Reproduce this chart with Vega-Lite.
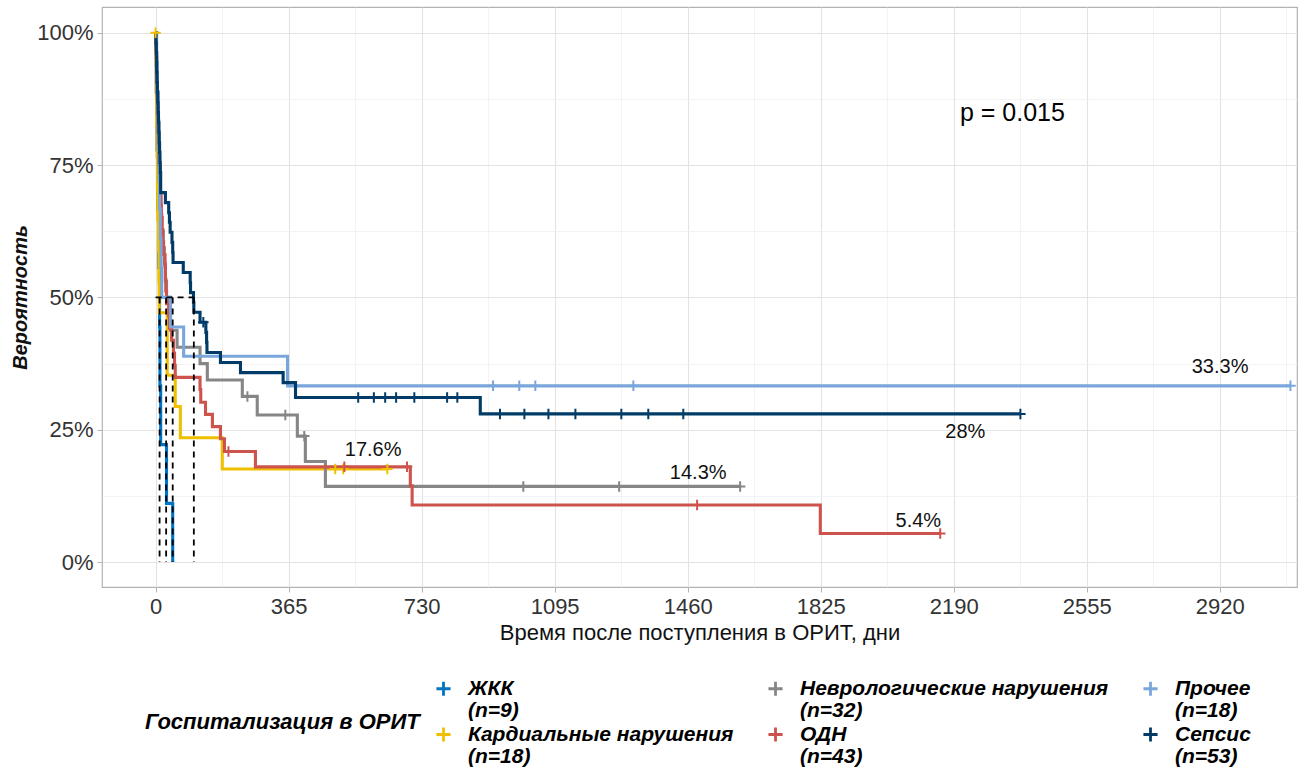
{
  "$schema": "https://vega.github.io/schema/vega-lite/v6.json",
  "width": 1195,
  "height": 580,
  "autosize": {"type": "none"},
  "padding": {"left": 102, "top": 7, "right": 17, "bottom": 182},
  "background": "white",
  "config": {
    "font": "Liberation Sans",
    "view": {"stroke": "#b3b3b3", "strokeWidth": 1.2},
    "axis": {
      "domain": false,
      "tickColor": "#b3b3b3",
      "tickSize": 5,
      "labelColor": "#333333",
      "labelFontSize": 22,
      "labelOverlap": false,
      "titleColor": "#111111",
      "titleFontSize": 22,
      "titleFontWeight": "normal"
    }
  },
  "datasets": {
    "km": [
      {"g": "ЖКК", "t": 0, "s": 1},
      {"g": "ЖКК", "t": 2, "s": 0.889},
      {"g": "ЖКК", "t": 4, "s": 0.778},
      {"g": "ЖКК", "t": 6, "s": 0.667},
      {"g": "ЖКК", "t": 8, "s": 0.556},
      {"g": "ЖКК", "t": 11, "s": 0.444},
      {"g": "ЖКК", "t": 12, "s": 0.333},
      {"g": "ЖКК", "t": 14, "s": 0.222},
      {"g": "ЖКК", "t": 30, "s": 0.111},
      {"g": "ЖКК", "t": 47, "s": 0},

      {"g": "Кардиальные нарушения", "t": 0, "s": 1},
      {"g": "Кардиальные нарушения", "t": 1, "s": 0.941},
      {"g": "Кардиальные нарушения", "t": 2, "s": 0.882},
      {"g": "Кардиальные нарушения", "t": 3, "s": 0.824},
      {"g": "Кардиальные нарушения", "t": 4, "s": 0.765},
      {"g": "Кардиальные нарушения", "t": 5, "s": 0.706},
      {"g": "Кардиальные нарушения", "t": 6, "s": 0.647},
      {"g": "Кардиальные нарушения", "t": 8, "s": 0.588},
      {"g": "Кардиальные нарушения", "t": 9, "s": 0.529},
      {"g": "Кардиальные нарушения", "t": 10, "s": 0.471},
      {"g": "Кардиальные нарушения", "t": 32, "s": 0.353},
      {"g": "Кардиальные нарушения", "t": 54, "s": 0.294},
      {"g": "Кардиальные нарушения", "t": 68, "s": 0.235},
      {"g": "Кардиальные нарушения", "t": 183, "s": 0.176},
      {"g": "Кардиальные нарушения", "t": 636, "s": 0.176},

      {"g": "Неврологические нарушения", "t": 0, "s": 1},
      {"g": "Неврологические нарушения", "t": 1, "s": 0.969},
      {"g": "Неврологические нарушения", "t": 2, "s": 0.938},
      {"g": "Неврологические нарушения", "t": 3, "s": 0.906},
      {"g": "Неврологические нарушения", "t": 4, "s": 0.875},
      {"g": "Неврологические нарушения", "t": 5, "s": 0.844},
      {"g": "Неврологические нарушения", "t": 6, "s": 0.813},
      {"g": "Неврологические нарушения", "t": 7, "s": 0.781},
      {"g": "Неврологические нарушения", "t": 8, "s": 0.75},
      {"g": "Неврологические нарушения", "t": 10, "s": 0.719},
      {"g": "Неврологические нарушения", "t": 12, "s": 0.688},
      {"g": "Неврологические нарушения", "t": 14, "s": 0.656},
      {"g": "Неврологические нарушения", "t": 17, "s": 0.625},
      {"g": "Неврологические нарушения", "t": 21, "s": 0.594},
      {"g": "Неврологические нарушения", "t": 24, "s": 0.563},
      {"g": "Неврологические нарушения", "t": 27, "s": 0.531},
      {"g": "Неврологические нарушения", "t": 30, "s": 0.5},
      {"g": "Неврологические нарушения", "t": 38, "s": 0.469},
      {"g": "Неврологические нарушения", "t": 41, "s": 0.438},
      {"g": "Неврологические нарушения", "t": 59, "s": 0.406},
      {"g": "Неврологические нарушения", "t": 122, "s": 0.375},
      {"g": "Неврологические нарушения", "t": 142, "s": 0.344},
      {"g": "Неврологические нарушения", "t": 238, "s": 0.313},
      {"g": "Неврологические нарушения", "t": 279, "s": 0.278},
      {"g": "Неврологические нарушения", "t": 389, "s": 0.238},
      {"g": "Неврологические нарушения", "t": 411, "s": 0.19},
      {"g": "Неврологические нарушения", "t": 466, "s": 0.143},
      {"g": "Неврологические нарушения", "t": 1604, "s": 0.143},

      {"g": "ОДН", "t": 0, "s": 1},
      {"g": "ОДН", "t": 1, "s": 0.977},
      {"g": "ОДН", "t": 2, "s": 0.953},
      {"g": "ОДН", "t": 3, "s": 0.93},
      {"g": "ОДН", "t": 4, "s": 0.907},
      {"g": "ОДН", "t": 5, "s": 0.884},
      {"g": "ОДН", "t": 6, "s": 0.86},
      {"g": "ОДН", "t": 7, "s": 0.837},
      {"g": "ОДН", "t": 8, "s": 0.814},
      {"g": "ОДН", "t": 9, "s": 0.791},
      {"g": "ОДН", "t": 10, "s": 0.767},
      {"g": "ОДН", "t": 11, "s": 0.744},
      {"g": "ОДН", "t": 12, "s": 0.721},
      {"g": "ОДН", "t": 13, "s": 0.698},
      {"g": "ОДН", "t": 15, "s": 0.674},
      {"g": "ОДН", "t": 16, "s": 0.651},
      {"g": "ОДН", "t": 18, "s": 0.628},
      {"g": "ОДН", "t": 20, "s": 0.605},
      {"g": "ОДН", "t": 22, "s": 0.581},
      {"g": "ОДН", "t": 26, "s": 0.558},
      {"g": "ОДН", "t": 27, "s": 0.535},
      {"g": "ОДН", "t": 28, "s": 0.512},
      {"g": "ОДН", "t": 30, "s": 0.488},
      {"g": "ОДН", "t": 36, "s": 0.465},
      {"g": "ОДН", "t": 38, "s": 0.442},
      {"g": "ОДН", "t": 44, "s": 0.419},
      {"g": "ОДН", "t": 49, "s": 0.395},
      {"g": "ОДН", "t": 52, "s": 0.372},
      {"g": "ОДН", "t": 54, "s": 0.349},
      {"g": "ОДН", "t": 122, "s": 0.326},
      {"g": "ОДН", "t": 124, "s": 0.302},
      {"g": "ОДН", "t": 137, "s": 0.279},
      {"g": "ОДН", "t": 156, "s": 0.256},
      {"g": "ОДН", "t": 178, "s": 0.233},
      {"g": "ОДН", "t": 189, "s": 0.209},
      {"g": "ОДН", "t": 274, "s": 0.18},
      {"g": "ОДН", "t": 699, "s": 0.144},
      {"g": "ОДН", "t": 704, "s": 0.108},
      {"g": "ОДН", "t": 1824, "s": 0.054},
      {"g": "ОДН", "t": 2153, "s": 0.054},

      {"g": "Прочее", "t": 0, "s": 1},
      {"g": "Прочее", "t": 3, "s": 0.944},
      {"g": "Прочее", "t": 5, "s": 0.889},
      {"g": "Прочее", "t": 7, "s": 0.833},
      {"g": "Прочее", "t": 9, "s": 0.778},
      {"g": "Прочее", "t": 10, "s": 0.722},
      {"g": "Прочее", "t": 11, "s": 0.667},
      {"g": "Прочее", "t": 13, "s": 0.611},
      {"g": "Прочее", "t": 15, "s": 0.556},
      {"g": "Прочее", "t": 17, "s": 0.5},
      {"g": "Прочее", "t": 41, "s": 0.444},
      {"g": "Прочее", "t": 77, "s": 0.389},
      {"g": "Прочее", "t": 362, "s": 0.333},
      {"g": "Прочее", "t": 3114, "s": 0.333},

      {"g": "Сепсис", "t": 0, "s": 1},
      {"g": "Сепсис", "t": 1, "s": 0.981},
      {"g": "Сепсис", "t": 2, "s": 0.962},
      {"g": "Сепсис", "t": 3, "s": 0.925},
      {"g": "Сепсис", "t": 4, "s": 0.906},
      {"g": "Сепсис", "t": 5, "s": 0.887},
      {"g": "Сепсис", "t": 6, "s": 0.868},
      {"g": "Сепсис", "t": 7, "s": 0.849},
      {"g": "Сепсис", "t": 8, "s": 0.83},
      {"g": "Сепсис", "t": 9, "s": 0.811},
      {"g": "Сепсис", "t": 10, "s": 0.792},
      {"g": "Сепсис", "t": 11, "s": 0.774},
      {"g": "Сепсис", "t": 12, "s": 0.755},
      {"g": "Сепсис", "t": 13, "s": 0.736},
      {"g": "Сепсис", "t": 14, "s": 0.698},
      {"g": "Сепсис", "t": 27, "s": 0.679},
      {"g": "Сепсис", "t": 36, "s": 0.66},
      {"g": "Сепсис", "t": 38, "s": 0.642},
      {"g": "Сепсис", "t": 40, "s": 0.623},
      {"g": "Сепсис", "t": 45, "s": 0.604},
      {"g": "Сепсис", "t": 47, "s": 0.585},
      {"g": "Сепсис", "t": 48, "s": 0.566},
      {"g": "Сепсис", "t": 76, "s": 0.547},
      {"g": "Сепсис", "t": 95, "s": 0.528},
      {"g": "Сепсис", "t": 96, "s": 0.509},
      {"g": "Сепсис", "t": 104, "s": 0.491},
      {"g": "Сепсис", "t": 105, "s": 0.472},
      {"g": "Сепсис", "t": 122, "s": 0.453},
      {"g": "Сепсис", "t": 138, "s": 0.434},
      {"g": "Сепсис", "t": 140, "s": 0.415},
      {"g": "Сепсис", "t": 141, "s": 0.396},
      {"g": "Сепсис", "t": 178, "s": 0.377},
      {"g": "Сепсис", "t": 233, "s": 0.358},
      {"g": "Сепсис", "t": 350, "s": 0.339},
      {"g": "Сепсис", "t": 384, "s": 0.311},
      {"g": "Сепсис", "t": 891, "s": 0.28},
      {"g": "Сепсис", "t": 2373, "s": 0.28}
    ],
    "censored": [
      {"g": "Кардиальные нарушения", "t": 0, "s": 1},
      {"g": "Кардиальные нарушения", "t": 493, "s": 0.176},
      {"g": "Кардиальные нарушения", "t": 515, "s": 0.176},
      {"g": "Кардиальные нарушения", "t": 636, "s": 0.176},
      {"g": "Неврологические нарушения", "t": 252, "s": 0.313},
      {"g": "Неврологические нарушения", "t": 356, "s": 0.278},
      {"g": "Неврологические нарушения", "t": 408, "s": 0.238},
      {"g": "Неврологические нарушения", "t": 1009, "s": 0.143},
      {"g": "Неврологические нарушения", "t": 1272, "s": 0.143},
      {"g": "Неврологические нарушения", "t": 1604, "s": 0.143},
      {"g": "ОДН", "t": 200, "s": 0.209},
      {"g": "ОДН", "t": 518, "s": 0.18},
      {"g": "ОДН", "t": 690, "s": 0.18},
      {"g": "ОДН", "t": 1486, "s": 0.108},
      {"g": "ОДН", "t": 2153, "s": 0.054},
      {"g": "Прочее", "t": 926, "s": 0.333},
      {"g": "Прочее", "t": 998, "s": 0.333},
      {"g": "Прочее", "t": 1042, "s": 0.333},
      {"g": "Прочее", "t": 1311, "s": 0.333},
      {"g": "Прочее", "t": 3114, "s": 0.333},
      {"g": "Сепсис", "t": 131, "s": 0.453},
      {"g": "Сепсис", "t": 556, "s": 0.311},
      {"g": "Сепсис", "t": 599, "s": 0.311},
      {"g": "Сепсис", "t": 630, "s": 0.311},
      {"g": "Сепсис", "t": 660, "s": 0.311},
      {"g": "Сепсис", "t": 710, "s": 0.311},
      {"g": "Сепсис", "t": 800, "s": 0.311},
      {"g": "Сепсис", "t": 828, "s": 0.311},
      {"g": "Сепсис", "t": 945, "s": 0.28},
      {"g": "Сепсис", "t": 1012, "s": 0.28},
      {"g": "Сепсис", "t": 1078, "s": 0.28},
      {"g": "Сепсис", "t": 1152, "s": 0.28},
      {"g": "Сепсис", "t": 1278, "s": 0.28},
      {"g": "Сепсис", "t": 1352, "s": 0.28},
      {"g": "Сепсис", "t": 1448, "s": 0.28},
      {"g": "Сепсис", "t": 2373, "s": 0.28}
    ],
    "medians": [
      {"t": 11, "s": 0.5},
      {"t": 29, "s": 0.5},
      {"t": 47, "s": 0.5},
      {"t": 105, "s": 0.5}
    ],
    "medianLevel": [
      {"t": 0, "t2": 105, "s": 0.5}
    ],
    "finalLabels": [
      {"t": 2921, "s": 0.333, "label": "33.3%", "side": "high"},
      {"t": 597, "s": 0.176, "label": "17.6%", "side": "high"},
      {"t": 1489, "s": 0.143, "label": "14.3%", "side": "low"},
      {"t": 2093, "s": 0.054, "label": "5.4%", "side": "low"},
      {"t": 2222, "s": 0.28, "label": "28%", "side": "below"}
    ]
  },
  "encoding": {
    "x": {
      "field": "t",
      "type": "quantitative",
      "scale": {"domain": [-147, 3132], "nice": false, "zero": false},
      "axis": {
        "title": "Время после поступления в ОРИТ, дни",
        "values": [0, 182.5, 365, 547.5, 730, 912.5, 1095, 1277.5, 1460, 1642.5, 1825, 2007.5, 2190, 2372.5, 2555, 2737.5, 2920, 3102.5],
        "format": "d",
        "labelExpr": "datum.value % 365 == 0 ? datum.label : ''",
        "labelPadding": 4,
        "titlePadding": 5,
        "tickOpacity": {"condition": {"test": "datum.value % 365 == 0", "value": 1}, "value": 0},
        "gridColor": {"condition": {"test": "datum.value % 365 == 0", "value": "#e3e3e3"}, "value": "#eeeeee"},
        "gridWidth": {"condition": {"test": "datum.value % 365 == 0", "value": 1.1}, "value": 0.7}
      }
    },
    "y": {
      "field": "s",
      "type": "quantitative",
      "scale": {"domain": [-0.047, 1.0486], "nice": false, "zero": false},
      "axis": {
        "title": "Вероятность",
        "titleFontStyle": "italic",
        "titleFontWeight": "bold",
        "titleFontSize": 20,
        "titlePadding": 6,
        "values": [0, 0.125, 0.25, 0.375, 0.5, 0.625, 0.75, 0.875, 1],
        "format": ".0%",
        "labelExpr": "datum.value * 4 % 1 == 0 ? datum.label : ''",
        "labelPadding": 4,
        "tickOpacity": {"condition": {"test": "datum.value * 4 % 1 == 0", "value": 1}, "value": 0},
        "gridColor": {"condition": {"test": "datum.value * 4 % 1 == 0", "value": "#e3e3e3"}, "value": "#eeeeee"},
        "gridWidth": {"condition": {"test": "datum.value * 4 % 1 == 0", "value": 1.1}, "value": 0.7}
      }
    }
  },
  "layer": [
    {
      "data": {"name": "km"},
      "mark": {"type": "line", "interpolate": "step-after", "strokeWidth": 3.1, "strokeJoin": "miter", "strokeCap": "butt"},
      "encoding": {
        "color": {
          "field": "g",
          "type": "nominal",
          "sort": null,
          "scale": {
            "domain": ["ЖКК", "Неврологические нарушения", "Прочее", "Кардиальные нарушения", "ОДН", "Сепсис"],
            "range": ["#0073C2", "#868686", "#7AA6DC", "#EFC000", "#CD534C", "#003C67"]
          },
          "legend": {
            "orient": "none",
            "legendX": 43,
            "legendY": 671,
            "direction": "horizontal",
            "columns": 3,
            "title": "Госпитализация в ОРИТ",
            "titleOrient": "left",
            "titleAnchor": "middle",
            "titleBaseline": "middle",
            "titleFontSize": 22,
            "titleFontStyle": "italic",
            "titleFontWeight": "bold",
            "titleColor": "#000000",
            "titlePadding": 13,
            "titleLimit": 400,
            "symbolType": "M-1,0H1M0,-1V1",
            "symbolSize": 200,
            "symbolStrokeWidth": 2.8,
            "symbolFillColor": "transparent",
            "labelExpr": "[datum.label, datum.label == 'ЖКК' ? '(n=9)' : datum.label == 'Кардиальные нарушения' ? '(n=18)' : datum.label == 'Неврологические нарушения' ? '(n=32)' : datum.label == 'ОДН' ? '(n=43)' : datum.label == 'Прочее' ? '(n=18)' : '(n=53)']",
            "labelFontSize": 21,
            "labelFontStyle": "italic",
            "labelFontWeight": "bold",
            "labelColor": "#000000",
            "labelOffset": 14,
            "labelLimit": 500,
            "columnPadding": 28,
            "rowPadding": 0,
            "encode": {
              "labels": {"update": {"lineHeight": {"value": 22}}}
            }
          }
        }
      }
    },
    {
      "data": {"name": "censored"},
      "mark": {"type": "point", "shape": "M-1,0H1M0,-1V1", "filled": false, "size": 110, "strokeWidth": 2, "opacity": 1},
      "encoding": {
        "color": {"field": "g", "type": "nominal"}
      }
    },
    {
      "data": {"name": "medians"},
      "mark": {"type": "rule", "color": "#000000", "strokeWidth": 1.8, "strokeDash": [6, 5]},
      "encoding": {
        "y2": {"datum": 0}
      }
    },
    {
      "data": {"name": "medianLevel"},
      "mark": {"type": "rule", "color": "#000000", "strokeWidth": 1.8, "strokeDash": [6, 5]},
      "encoding": {
        "x2": {"field": "t2"}
      }
    },
    {
      "data": {"name": "finalLabels"},
      "transform": [{"filter": "datum.side == 'high'"}],
      "mark": {"type": "text", "fontSize": 20, "color": "#111111", "dy": -19},
      "encoding": {"text": {"field": "label"}}
    },
    {
      "data": {"name": "finalLabels"},
      "transform": [{"filter": "datum.side == 'low'"}],
      "mark": {"type": "text", "fontSize": 20, "color": "#111111", "dy": -13},
      "encoding": {"text": {"field": "label"}}
    },
    {
      "data": {"name": "finalLabels"},
      "transform": [{"filter": "datum.side == 'below'"}],
      "mark": {"type": "text", "fontSize": 20, "color": "#111111", "dy": 18},
      "encoding": {"text": {"field": "label"}}
    },
    {
      "data": {"values": [{"t": 2351, "s": 0.849, "label": "p = 0.015"}]},
      "mark": {"type": "text", "fontSize": 25, "color": "#000000"},
      "encoding": {"text": {"field": "label"}}
    }
  ]
}
